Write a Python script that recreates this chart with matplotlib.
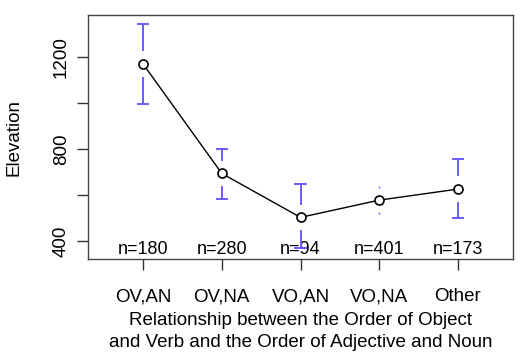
import matplotlib
matplotlib.use('Agg')
import matplotlib.pyplot as plt
import numpy as np

categories = ['OV,AN', 'OV,NA', 'VO,AN', 'VO,NA', 'Other']
elevation = [1170, 694, 503, 578, 626]
ci_upper = [1343, 801, 647, 636, 755]
ci_lower = [996, 583, 368, 523, 499]
counts = ['n=180', 'n=280', 'n=94', 'n=401', 'n=173']

plt.rcParams['font.family'] = ['Liberation Sans', 'DejaVu Sans']
plt.rcParams['font.size'] = 13.5

fig = plt.figure(figsize=(5.32, 3.6), dpi=100)
ax = fig.add_axes([88/532, 101/360, 425/532, 244/360])

x = np.arange(1, len(categories) + 1)
blue = '#6a5cff'
gap = 60  # gap around the point, in data units (~13 px)

for xi, m, hi, lo in zip(x, elevation, ci_upper, ci_lower):
    if hi - m > gap:
        ax.plot([xi, xi], [m + gap, hi], color=blue, lw=1.4, zorder=3)
        ax.plot([xi - 0.065, xi + 0.065], [hi, hi], color=blue, lw=1.4, zorder=3)
    else:
        ax.plot([xi], [hi], marker='s', ms=1.2, color=blue, mew=0, zorder=3)
    if m - lo > gap:
        ax.plot([xi, xi], [m - gap, lo], color=blue, lw=1.4, zorder=3)
        ax.plot([xi - 0.065, xi + 0.065], [lo, lo], color=blue, lw=1.4, zorder=3)
    else:
        ax.plot([xi], [lo], marker='s', ms=1.2, color=blue, mew=0, zorder=3)

ax.plot(x, elevation, color='black', lw=1, marker='o', ms=6.5,
        mfc='white', mec='black', mew=1.2, zorder=4)

for xi, c in zip(x, counts):
    ax.text(xi, 365, c, ha='center', va='center', fontsize=13, zorder=2)

ax.set_xlim(0.3, 5.7)
ax.set_ylim(322, 1383)
ax.set_xticks(x)
ax.set_xticklabels(categories)
ax.set_yticks([400, 600, 800, 1000, 1200])
ax.set_yticklabels(['400', '', '800', '', '1200'], rotation=90, va='center')
ax.tick_params(axis='both', length=8, width=1, color='#333333')
ax.tick_params(axis='x', pad=13)
ax.tick_params(axis='y', pad=5)
for s in ax.spines.values():
    s.set_color('#444444')
    s.set_linewidth(1)

ax.set_xlabel('Relationship between the Order of Object\nand Verb and the Order of Adjective and Noun',
              linespacing=1.35, labelpad=5)
ax.set_ylabel('Elevation')
ax.yaxis.set_label_coords(-0.155, 0.5)

fig.savefig('out.png', dpi=100)
